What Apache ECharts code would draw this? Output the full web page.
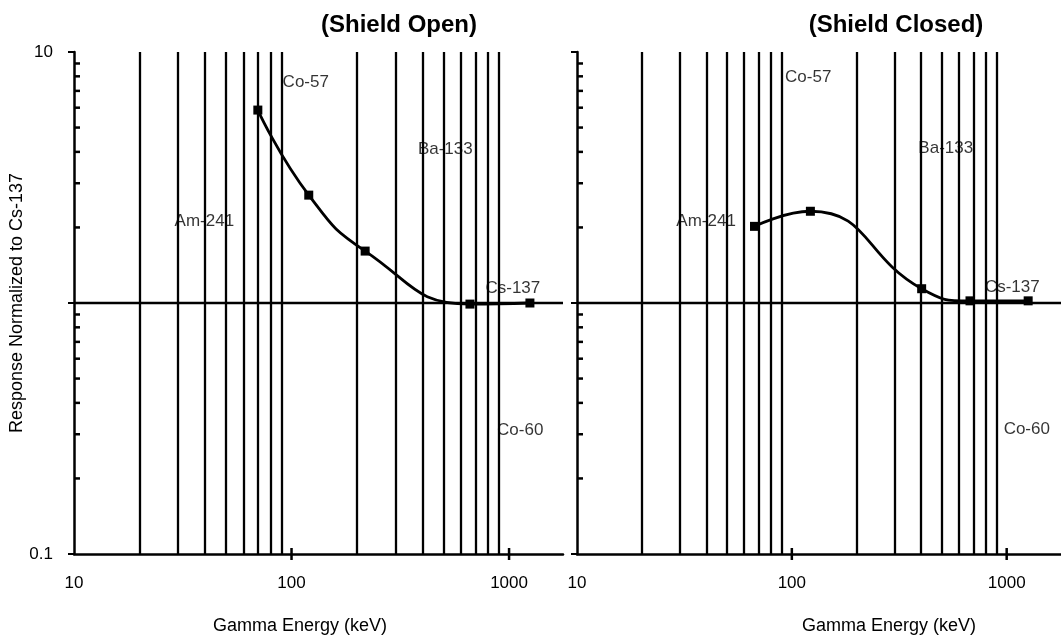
<!DOCTYPE html>
<html><head><meta charset="utf-8">
<script src="https://cdn.jsdelivr.net/npm/echarts@6/dist/echarts.min.js"></script>
<style>html,body{margin:0;padding:0;background:#fff}#c{width:1061px;height:635px}</style>
</head><body><div id="c"></div>
<script>
// ---- data ----
const panelTitles = ['(Shield Open)', '(Shield Closed)'];
const xAxisTitle = 'Gamma Energy (keV)';
const yAxisTitle = 'Response Normalized to Cs-137';
const openEnergy = [70, 120, 218, 661, 1247];
const openResponse = [5.87, 2.69, 1.61, 0.99, 1.0];
const closedEnergy = [67, 122, 402, 675, 1259];
const closedResponse = [2.02, 2.32, 1.14, 1.02, 1.02];
const isotopeNames = ['Co-57', 'Ba-133', 'Am-241', 'Cs-137', 'Co-60'];
const openLabelX = [91, 381, 29, 779, 881];
const openLabelY = [7.6, 4.1, 2.12, 1.14, 0.31];
const closedLabelX = [93, 388, 29, 792, 968];
const closedLabelY = [7.9, 4.15, 2.12, 1.15, 0.315];
const gridLinesX = [20, 30, 40, 50, 60, 70, 80, 90, 200, 300, 400, 500, 600, 700, 800, 900];
const xMajorTicks = [100, 1000];
const yMinorTicks = [0.2, 0.3, 0.4, 0.5, 0.6, 0.7, 0.8, 0.9, 2, 3, 4, 5, 6, 7, 8, 9];
const xTickLabels = ['10', '100', '1000'];
const yTickLabels = ['0.1', '10'];
const xMin = 10, yMin = 0.1, yMax = 10;
const xMaxOpen = 1770, xMaxClosed = 1790;

// ---- chart ----
const FONT = 'Liberation Sans, Arial, Helvetica, sans-serif';
const INK = '#000';
const chart = echarts.init(document.getElementById('c'), null, {renderer: 'canvas'});

function labelFor(list) {
  return function (v) {
    for (const s of list) { if (Math.abs(Math.log10(v) - Math.log10(parseFloat(s))) < 1e-6) return s; }
    return '';
  };
}
function xAxisCfg(idx, max) {
  return {
    type: 'log', gridIndex: idx, min: xMin, max: max, logBase: 10,
    axisLine: {show: true, lineStyle: {color: INK, width: 2.5}},
    axisTick: {show: false},
    splitLine: {show: false},
    axisLabel: {show: true, margin: 21, fontSize: 17, fontFamily: FONT, color: INK,
      formatter: labelFor(xTickLabels), showMaxLabel: false}
  };
}
function yAxisCfg(idx, showLabels) {
  return {
    type: 'log', gridIndex: idx, min: yMin, max: yMax, logBase: 10,
    axisLine: {show: true, lineStyle: {color: INK, width: 2.5}},
    axisTick: {show: true, inside: false, length: 6, lineStyle: {color: INK, width: 2}},
    splitLine: {show: false},
    axisLabel: {show: showLabels, margin: 21, fontSize: 17, fontFamily: FONT, color: INK,
      formatter: labelFor(yTickLabels)}
  };
}
function seriesFor(idx, energy, response, lx, ly) {
  const pts = energy.map((e, i) => [e, response[i]]);
  const marks = gridLinesX.map(v => ({xAxis: v})).concat([{yAxis: 1}]);
  return [
    {
      type: 'line', xAxisIndex: idx, yAxisIndex: idx, data: pts, smooth: 0.5,
      symbol: 'rect', symbolSize: 9, itemStyle: {color: INK},
      lineStyle: {color: INK, width: 2.8}, z: 5,
      markLine: {silent: true, symbol: 'none', animation: false, label: {show: false},
        lineStyle: {type: 'solid', color: INK, width: 2.3, opacity: 1}, data: marks}
    },
    {
      type: 'custom', xAxisIndex: idx, yAxisIndex: idx, clip: false, silent: true,
      data: yMinorTicks.map(v => [xMin, v]),
      renderItem: function (params, api) {
        const p = api.coord([api.value(0), api.value(1)]);
        return {type: 'line', shape: {x1: p[0], y1: p[1], x2: p[0] + 6, y2: p[1]},
          style: {stroke: INK, lineWidth: 2.5}};
      }
    },
    {
      type: 'custom', xAxisIndex: idx, yAxisIndex: idx, clip: false, silent: true,
      data: xMajorTicks.map(v => [v, yMin]),
      renderItem: function (params, api) {
        const p = api.coord([api.value(0), api.value(1)]);
        return {type: 'line', shape: {x1: p[0], y1: p[1] - 6, x2: p[0], y2: p[1] + 6},
          style: {stroke: INK, lineWidth: 2.5}};
      }
    },
    {
      type: 'scatter', xAxisIndex: idx, yAxisIndex: idx, symbolSize: 0, silent: true, z: 6,
      data: isotopeNames.map((n, i) => ({name: n, value: [lx[i], ly[i]]})),
      label: {show: true, position: 'right', distance: 0, formatter: '{b}',
        fontSize: 17, fontFamily: FONT, color: INK}
    }
  ];
}

const option = {
  backgroundColor: '#fff',
  animation: false,
  grid: [
    {left: 74, top: 52, width: 489, height: 502},
    {left: 577, top: 52, width: 490, height: 502}
  ],
  xAxis: [xAxisCfg(0, xMaxOpen), xAxisCfg(1, xMaxClosed)],
  yAxis: [yAxisCfg(0, true), yAxisCfg(1, false)],
  series: seriesFor(0, openEnergy, openResponse, openLabelX, openLabelY)
    .concat(seriesFor(1, closedEnergy, closedResponse, closedLabelX, closedLabelY)),
  graphic: [
    {type: 'text', x: 399, y: 25, style: {text: panelTitles[0], font: 'bold 24px ' + FONT, fill: INK, align: 'center', verticalAlign: 'middle', textAlign: 'center', textVerticalAlign: 'middle'}},
    {type: 'text', x: 896, y: 25, style: {text: panelTitles[1], font: 'bold 24px ' + FONT, fill: INK, align: 'center', verticalAlign: 'middle', textAlign: 'center', textVerticalAlign: 'middle'}},
    {type: 'text', x: 300, y: 626, style: {text: xAxisTitle, font: '18px ' + FONT, fill: INK, align: 'center', verticalAlign: 'middle', textAlign: 'center', textVerticalAlign: 'middle'}},
    {type: 'text', x: 889, y: 626, style: {text: xAxisTitle, font: '18px ' + FONT, fill: INK, align: 'center', verticalAlign: 'middle', textAlign: 'center', textVerticalAlign: 'middle'}},
    {type: 'text', x: 17, y: 303, rotation: Math.PI / 2, style: {text: yAxisTitle, font: '18px ' + FONT, fill: INK, align: 'center', verticalAlign: 'middle', textAlign: 'center', textVerticalAlign: 'middle'}}
  ]
};
chart.setOption(option);
</script>
</body></html>
